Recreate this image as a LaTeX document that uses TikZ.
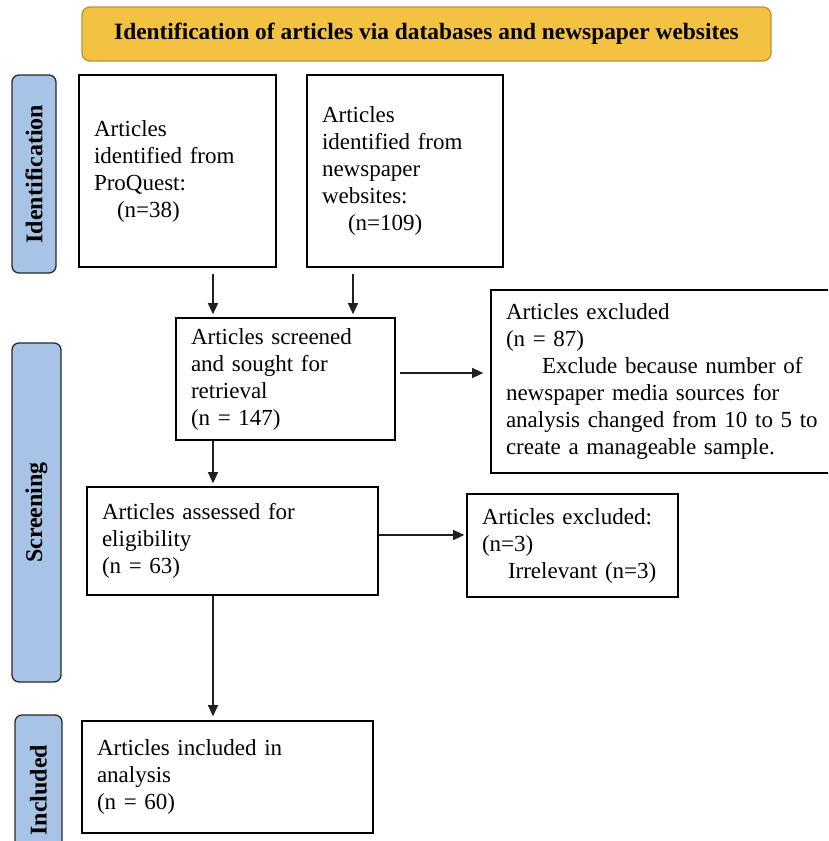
\documentclass[tikz,border=0pt]{standalone}
\usepackage{fontspec}
\setmainfont{Liberation Serif}
\usetikzlibrary{arrows.meta,calc}
\definecolor{bannerfill}{HTML}{F4C242}
\definecolor{bannerdraw}{HTML}{B8933A}
\definecolor{sidefill}{HTML}{A7C3E5}
\definecolor{sidedraw}{HTML}{2A2A2A}
\definecolor{arrowcol}{HTML}{202020}
\tikzset{
  box/.style={draw=black, line width=1.6pt, fill=white, rectangle, align=left,
    inner xsep=15pt, inner ysep=0pt, font=\fontsize{23}{27}\selectfont},
  sidebox/.style={draw=sidedraw, line width=1.3pt, fill=sidefill, rounded corners=7pt,
    rotate=90, inner sep=0pt, font=\fontsize{24}{26}\selectfont\bfseries},
  banner/.style={draw=bannerdraw, line width=1.3pt, fill=bannerfill, rounded corners=8pt,
    inner sep=0pt, font=\fontsize{23.4}{26}\selectfont\bfseries},
  arr/.style={draw=arrowcol, line width=1.1pt, -{Triangle[length=11pt,width=10pt]}}
}
\begin{document}
\begin{tikzpicture}[x=1pt,y=-1pt]
\useasboundingbox (0,0) rectangle (828,841);
\clip (0,0) rectangle (828,841);
\fill[white] (0,0) rectangle (828,841);

% banner
\node[banner, minimum width=689pt, minimum height=54pt] (ban) at (426.5,34)
  {Identification of articles via databases and newspaper websites};

% side labels
\node[sidebox, minimum width=198pt, minimum height=44pt] (sid) at (34,174) {Identification};
\node[sidebox, minimum width=339pt, minimum height=49pt] (scr) at (36.5,512.5) {Screening};
\node[sidebox, minimum width=150pt, minimum height=47pt] (inc) at (38.5,790) {Included};

% boxes
\node[box, minimum height=192pt, text width=167pt] (b1) at (177.5,171)
  {Articles\\identified from\\ProQuest:\\\hspace*{23pt}(n=38)};
\node[box, minimum height=192pt, text width=166pt] (b2) at (405,171)
  {Articles\\identified from\\newspaper\\websites:\\\hspace*{26pt}(n=109)};
\node[box, minimum height=122pt, text width=189pt] (b3) at (285.5,379)
  {Articles screened\\and sought for\\retrieval\\(n = 147)};
\node[box, minimum height=183pt, text width=330pt] (b4) at (671,381.5)
  {Articles excluded\\(n = 87)\\\hspace*{36pt}Exclude because number of\\newspaper media sources for\\analysis changed from 10 to 5 to\\create a manageable sample.};
\node[box, minimum height=108pt, text width=261pt] (b5) at (232.5,541)
  {Articles assessed for\\eligibility\\(n = 63)};
\node[box, minimum height=103pt, text width=181pt] (b6) at (572.5,545.5)
  {Articles excluded:\\(n=3)\\\hspace*{26pt}Irrelevant (n=3)};
\node[box, minimum height=112pt, text width=261pt] (b7) at (227.5,777)
  {Articles included in\\analysis\\(n = 60)};

% connectors
\draw[arr, shorten >=3pt] ([xshift=35.5pt,yshift=-6pt]b1.south) -- ([xshift=35.5pt]b1.south |- b3.north);
\draw[arr, shorten >=3pt] ([xshift=-52pt,yshift=-6pt]b2.south) -- ([xshift=-52pt]b2.south |- b3.north);
\draw[arr, shorten >=7pt] ([xshift=4pt,yshift=6pt]b3.east) -- ([yshift=6pt]b3.east -| b4.west);
\draw[arr, shorten >=3pt] ([xshift=-72.5pt]b3.south) -- ([xshift=-72.5pt]b3.south |- b5.north);
\draw[arr, shorten >=2pt] ([yshift=6pt]b5.east) -- ([yshift=6pt]b5.east -| b6.west);
\draw[arr, shorten >=4pt] ([xshift=-19.5pt]b5.south) -- ([xshift=-19.5pt]b5.south |- b7.north);
\end{tikzpicture}
\end{document}
